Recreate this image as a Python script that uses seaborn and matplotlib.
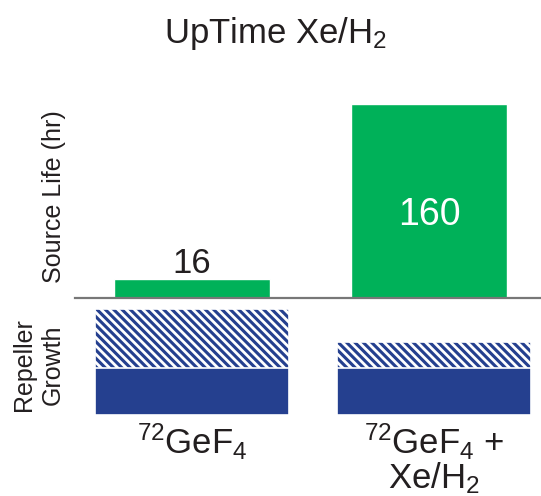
import matplotlib
matplotlib.use("Agg")
import matplotlib.pyplot as plt
import seaborn as sns
import pandas as pd

# data
categories = ["72GeF4", "72GeF4 + Xe/H2"]
tick_labels = [r"$\mathregular{^{72}GeF_4}$",
               "$\\mathregular{^{72}GeF_4}$ +\nXe/H$\\mathregular{_2}$"]
source_life = [16, 160]          # hr
repeller_base = [1.0, 1.0]       # solid part (arb. units)
repeller_growth = [1.25, 0.55]   # hatched part (arb. units)

GREEN = "#00B159"
BLUE = "#25408F"
INK = "#231F20"

sns.set_theme(style="white")
plt.rcParams["font.family"] = ["Liberation Sans", "DejaVu Sans"]
plt.rcParams["hatch.linewidth"] = 2.0

df = pd.DataFrame({
    "gas": categories,
    "life": source_life,
    "base": repeller_base,
    "total": [b + g for b, g in zip(repeller_base, repeller_growth)],
})

fig = plt.figure(figsize=(5.41, 4.96), dpi=100)
ax_top = fig.add_axes([0.1386, 0.3992, 0.8614, 0.4194])
ax_bot = fig.add_axes([0.1386, 0.1633, 0.8614, 0.2319])

# upper panel: source life
sns.barplot(data=df, x="gas", y="life", color=GREEN, saturation=1,
            width=0.66, errorbar=None, ax=ax_top)
ax_top.set_xlim(-0.494, 1.473)
ax_top.set_ylim(0, 171.5)
sns.despine(ax=ax_top, left=True)
ax_top.spines["bottom"].set_color("#777777")
ax_top.spines["bottom"].set_linewidth(1.6)
ax_top.set_xticks([])
ax_top.set_yticks([])
ax_top.set_xlabel("")
ax_top.set_ylabel("Source Life (hr)", fontsize=18, color=INK)
ax_top.yaxis.set_label_coords(-0.019, 0.486)

for i, v in enumerate(source_life):
    if v < 50:
        ax_top.annotate(str(v), (i, v), xytext=(0, -1), textcoords="offset points",
                        ha="center", va="bottom", fontsize=25, color=INK)
    else:
        ax_top.text(i, v * 0.43, str(v), ha="center", va="center",
                    fontsize=27, color="white")

# lower panel: repeller growth (stacked: hatched total, solid base on top)
sns.barplot(data=df, x="gas", y="total", color=BLUE, saturation=1, width=0.8,
            errorbar=None, hatch="\\\\\\\\", edgecolor="white", linewidth=1.2, ax=ax_bot)
sns.barplot(data=df, x="gas", y="base", color=BLUE, saturation=1, width=0.8,
            errorbar=None, edgecolor="white", linewidth=1.2, ax=ax_bot)
ax_bot.set_xlim(-0.483, 1.442)
ax_bot.set_ylim(0, 2.447)
sns.despine(ax=ax_bot, left=True, bottom=True)
ax_bot.set_yticks([])
ax_bot.set_xticks([0, 1])
ax_bot.set_xticklabels(tick_labels, fontsize=25, color=INK)
for t in ax_bot.get_xticklabels():
    t.set_linespacing(0.93)
ax_bot.tick_params(axis="x", length=0, pad=5)
ax_bot.set_xlabel("")
ax_bot.set_ylabel("Repeller\nGrowth", fontsize=18, color=INK, linespacing=1.25)
ax_bot.yaxis.set_label_coords(-0.0215, 0.435)

fig.text(0.51, 1 - 33 / 496, r"UpTime Xe/H$\mathregular{_2}$", ha="center",
         va="center", fontsize=25, color=INK)

fig.savefig("out.png", dpi=100)
